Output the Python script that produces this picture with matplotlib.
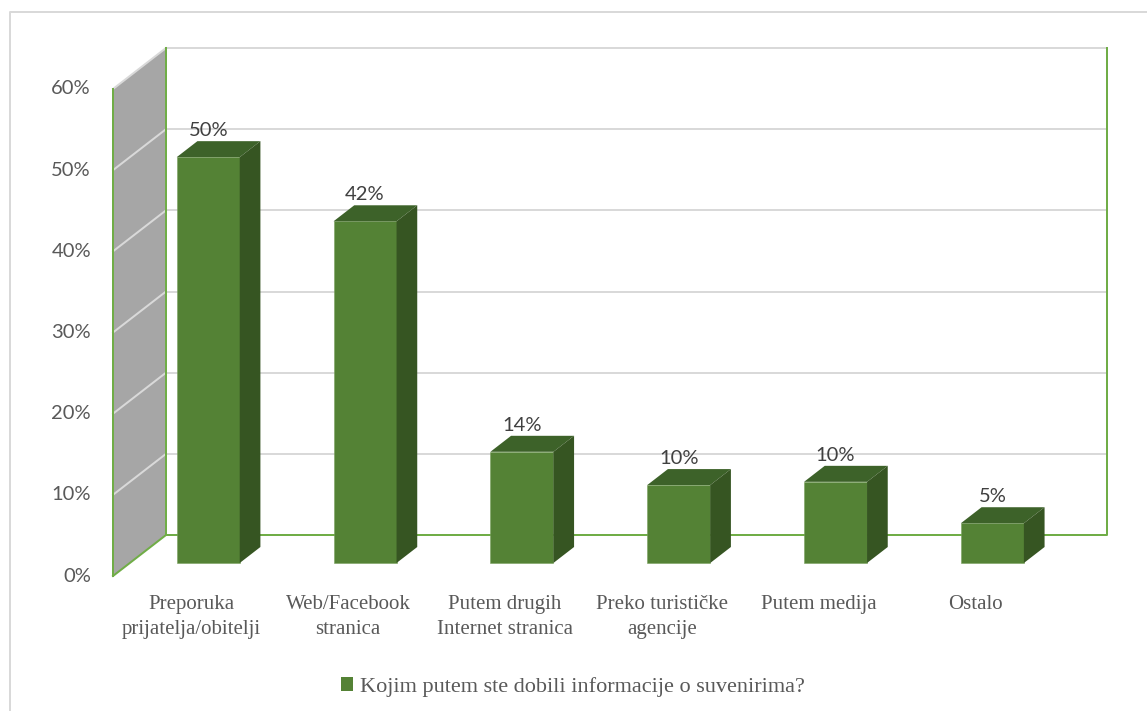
import matplotlib
matplotlib.use("Agg")
import matplotlib.pyplot as plt
from matplotlib.patches import Polygon, Rectangle, Patch
from matplotlib.lines import Line2D

#------------------------------- DATA -----------------------------
categories = ["Preporuka\nprijatelja/obitelji", "Web/Facebook\nstranica",
              "Putem drugih\nInternet stranica", "Preko turističke\nagencije",
              "Putem medija", "Ostalo"]
values = [50.0, 42.1, 13.7, 9.6, 10.0, 4.9]
yticks = [0, 10, 20, 30, 40, 50, 60]
series_name = "Kojim putem ste dobili informacije o suvenirima?"

#------------------------------- STYLE -----------------------------
W, H = 1147, 711
C_FRONT = "#548235"
C_TOP = "#3d6229"
C_SIDE = "#365522"
C_WALL = "#a6a6a6"
C_GRID = "#d9d9d9"
C_FRAME = "#70ad47"
C_TEXT = "#404040"
C_CAT = "#595959"
NUM_FONT = "Lato"
CAT_FONT = "Liberation Serif"

fig = plt.figure(figsize=(W / 100, H / 100), dpi=100)
fig.patch.set_facecolor("white")
# axes = back wall plane of the 3D chart
ax = fig.add_axes([166 / W, 176 / H, 941 / W, 487 / H])
ax.set_xlim(-0.5, 5.5)
ax.set_ylim(0, 60)
ax.axis("off")

px_x = 941 / 6      # pixels per category unit
px_y = 487 / 60     # pixels per percent
DX = 53 / px_x      # full depth offset (front vs back wall) in data units
DY = 41 / px_y
F_FRONT = 28 / 41   # depth fraction of bar front faces
F_BACK = 12 / 41    # depth fraction of bar back faces
hw = 31.5 / px_x    # half bar width

def shift(x, y, f):
    # move a back-plane point towards the viewer by depth fraction f
    return x - f * DX, y - f * DY

lw_px = 2 * 72 / 100

# --- left (gray) side wall ---
x0 = -0.5
wall = [shift(x0, 0, 1), shift(x0, 60, 1), (x0, 60), (x0, 0)]
ax.add_patch(Polygon(wall, closed=True, fc=C_WALL, ec="none", zorder=1, clip_on=False))
for t in yticks[1:]:
    p, q = shift(x0, t, 1), (x0, t)
    ax.plot([p[0], q[0]], [p[1], q[1]], color=C_GRID, lw=lw_px, zorder=2, clip_on=False)
    # back wall gridlines
    ax.plot([-0.5, 5.5], [t, t], color=C_GRID, lw=lw_px, zorder=2, clip_on=False)

# green frame lines
p = shift(x0, 0, 1)
ax.plot([p[0], x0, 5.5, 5.5], [p[1], 0, 0, 60], color=C_FRAME, lw=lw_px, zorder=3, clip_on=False)
q = shift(x0, 60, 1)
ax.plot([p[0], q[0]], [p[1], q[1]], color=C_FRAME, lw=lw_px, zorder=3, clip_on=False)
ax.plot([x0, x0], [0, 60], color=C_FRAME, lw=lw_px, zorder=3, clip_on=False)

# --- bars ---
for i, v in enumerate(values):
    fl = shift(i - hw, 0, F_FRONT)
    fr = shift(i + hw, 0, F_FRONT)
    br = shift(i + hw, 0, F_BACK)
    ax.add_patch(Rectangle(fl, 2 * hw, v, fc=C_FRONT, ec="#7aa05e", lw=0.4, zorder=5, clip_on=False))
    top = [(fl[0], fl[1] + v), (fr[0], fr[1] + v), (br[0], br[1] + v),
           (br[0] - 2 * hw, br[1] + v)]
    ax.add_patch(Polygon(top, closed=True, fc=C_TOP, ec="none", zorder=5, clip_on=False))
    side = [fr, (fr[0], fr[1] + v), (br[0], br[1] + v), br]
    ax.add_patch(Polygon(side, closed=True, fc=C_SIDE, ec="none", zorder=5, clip_on=False))
    lx = shift(i, v, F_FRONT)[0]
    ly = shift(i, v, F_BACK)[1] + 2 / px_y
    ax.text(lx, ly, f"{v:.0f}%", ha="center", va="bottom", fontsize=14.5,
            family=NUM_FONT, color=C_TEXT, zorder=6)
    cx, cy = shift(i, 0, 1)
    ax.text(cx, cy - 19 / px_y, categories[i], ha="center", va="top", fontsize=15,
            family=CAT_FONT, color=C_CAT, linespacing=1.4)

# --- y tick labels (front edge of side wall) ---
for t in yticks:
    tx, ty = shift(x0, t, 1)
    ax.text(tx - 22 / px_x, ty, f"{t}%", ha="right", va="center", fontsize=14.5,
            family=NUM_FONT, color=C_CAT)

# --- legend ---
fig.legend(handles=[Patch(fc=C_FRONT, ec="none")], labels=[series_name],
           loc="center", bbox_to_anchor=(573 / W, 1 - 687 / H), frameon=False,
           handlelength=0.55, handleheight=0.55, handletextpad=0.3,
           prop={"family": CAT_FONT, "size": 16}, labelcolor=C_CAT)

# --- chart border (top and left visible) ---
fig.add_artist(Line2D([10 / W, 10 / W, 1], [0, 1 - 12 / H, 1 - 12 / H],
                      color=C_GRID, lw=lw_px))

fig.savefig("out.png", dpi=100, facecolor="white")
